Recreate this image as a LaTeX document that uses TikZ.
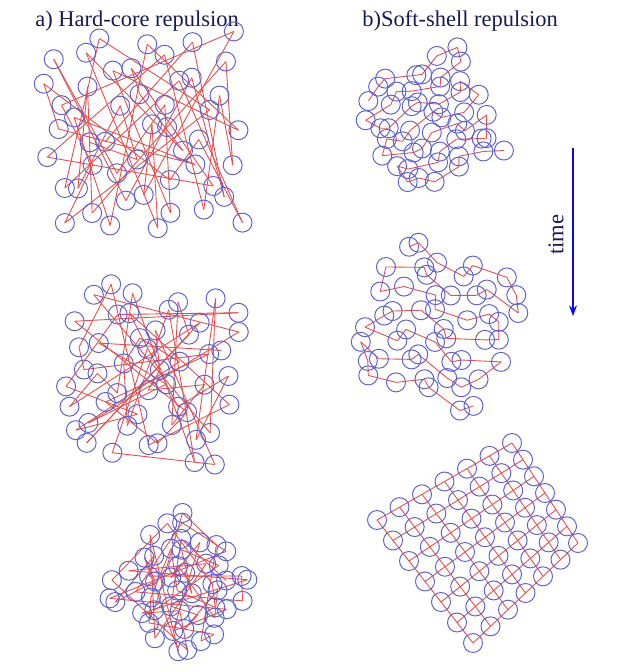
\documentclass[tikz,border=0pt]{standalone}
\usepackage{fontspec}
\setmainfont{Liberation Serif}
\usepackage{tikz}
\usetikzlibrary{arrows.meta}
\definecolor{beadblue}{RGB}{95,95,205}
\definecolor{bondred}{RGB}{225,80,80}
\definecolor{inknavy}{RGB}{25,25,85}
\definecolor{timeblue}{RGB}{10,10,225}
\tikzset{
  bead/.style={draw=beadblue, line width=0.55pt},
  bond/.style={draw=bondred, line width=0.5pt},
  title/.style={text=inknavy, font=\fontsize{12.8}{15}\selectfont, inner sep=0pt},
  timearrow/.style={draw=timeblue, line width=1.1pt, -{Stealth[length=6pt,width=4.5pt]}}
}
% visiting orders of the 7x7 cells
\def\orderA{23,5,41,12,37,0,30,18,46,9,27,3,44,15,33,21,7,39,26,48,11,35,2,19,42,29,14,6,38,24,45,1,32,17,10,40,28,4,47,20,34,13,25,43,8,36,16,31,22}
\def\orderS{0,1,2,3,4,5,6,13,12,11,10,9,8,7,14,15,16,17,18,19,20,27,26,25,24,23,22,21,28,29,30,31,32,33,34,41,40,39,38,37,36,35,42,43,44,45,46,47,48}
% name, cx, cy, spacing, jitter, angle, order, multiplier, phase
\newcommand{\beadcloud}[9]{%
  \begin{scope}[shift={(#2,#3)},rotate=#6]
    \foreach \q [count=\k from 0] in #7 {
      \pgfmathtruncatemacro\bq{mod(#8*\q,49)}
      \pgfmathtruncatemacro\brow{floor(\bq/7)}
      \pgfmathtruncatemacro\bcol{mod(\bq,7)}
      \pgfmathsetmacro\jx{#5*sin(137.5*\bq+#9)}
      \pgfmathsetmacro\jy{#5*sin(97.3*\bq+2*#9+40)}
      \coordinate (#1-\k) at ({(\bcol-3)*#4+\jx},{(\brow-3)*#4+\jy});
    }
  \end{scope}
  \foreach \k [evaluate=\k as \kk using int(\k+1)] in {0,...,47}
    \draw[bond] (#1-\k) -- (#1-\kk);
  \foreach \k in {0,...,48}
    \draw[bead] (#1-\k) circle[radius=1.9mm];
}
\begin{document}
\begin{tikzpicture}[x=0.02cm,y=-0.02cm]
  \useasboundingbox (0,0) rectangle (620,672);

  % --- TITLES ---
  \node[title, anchor=base west] (titleA) at (35,27) {a) Hard-core repulsion};
  \node[title, anchor=base west] (titleB) at (362,27) {b)Soft-shell repulsion};

  % --- HARD-CORE (LEFT) ---
  \beadcloud{hcA}{143}{133}{29}{10}{3}{\orderA}{1}{10}
  \beadcloud{hcB}{151}{374}{25}{9}{-8}{\orderA}{3}{55}
  \beadcloud{hcC}{181}{586}{17}{6}{-40}{\orderA}{5}{120}

  % --- SOFT-SHELL (RIGHT) ---
  \beadcloud{ssA}{430}{121}{17}{7}{25}{\orderS}{1}{30}
  \beadcloud{ssB}{438}{326}{21}{9}{-20}{\orderS}{1}{75}

  % final state: ordered lattice
  \foreach \i in {0,...,6}{
    \foreach \j in {0,...,6}{
      \coordinate (lat-\i-\j) at ({377+135*\i/6+96*\j/6-30*\i*\j/36},{520-77*\i/6+123*\j/6-23*\i*\j/36});
    }
  }
  \foreach \i in {0,...,6}{
    \foreach \j in {0,...,5}{
      \pgfmathtruncatemacro\jj{\j+1}
      \draw[bond] (lat-\i-\j) -- (lat-\i-\jj);
      \draw[bond] (lat-\j-\i) -- (lat-\jj-\i);
    }
  }
  \foreach \i in {0,...,6}{
    \foreach \j in {0,...,6}{
      \draw[bead] (lat-\i-\j) circle[radius=1.9mm];
    }
  }

  % --- TIME ARROW ---
  \coordinate (tStart) at (573,148);
  \coordinate (tEnd) at (573,316);
  \draw[timearrow] (tStart) -- (tEnd);
  \node[title, rotate=90] (timeLabel) at (556,235) {time};
\end{tikzpicture}
\end{document}
